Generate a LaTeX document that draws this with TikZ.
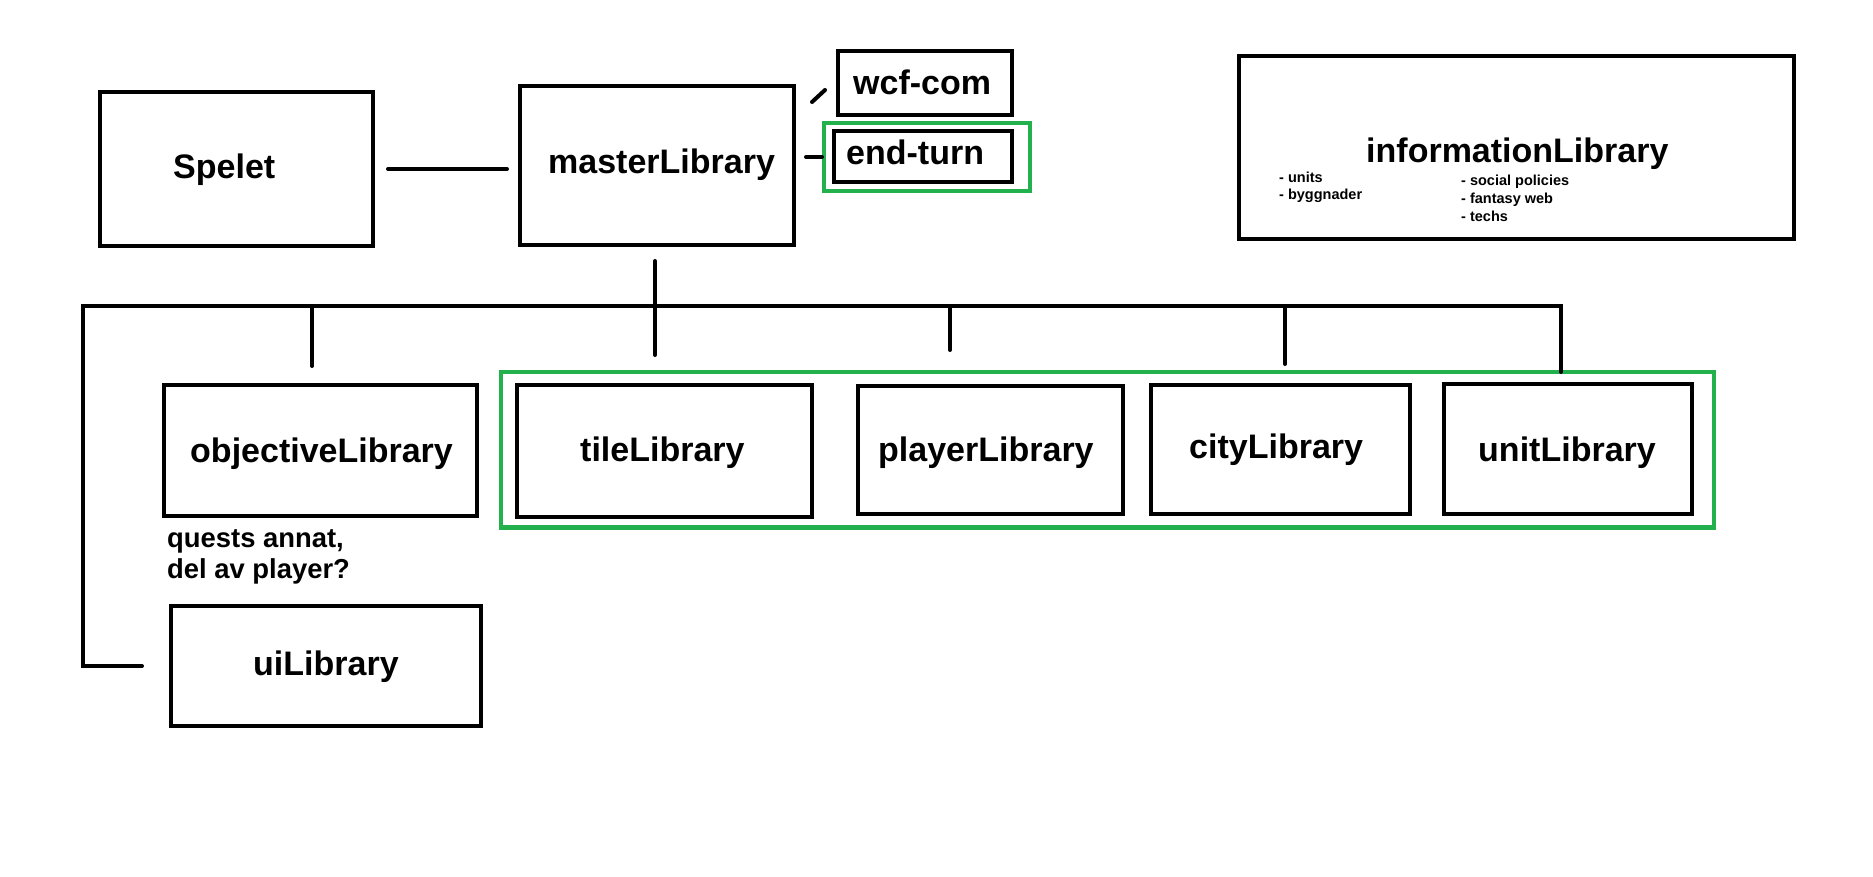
\documentclass[tikz,border=0pt]{standalone}
\usepackage{fontspec}
\setmainfont{Liberation Sans}
\usetikzlibrary{calc}
\definecolor{pgreen}{RGB}{34,177,76}
\begin{document}
\begin{tikzpicture}[x=1pt,y=-1pt,
  box/.style={draw=black, line width=4.5pt, inner sep=0pt, outer sep=0pt},
  gbox/.style={draw=pgreen, line width=4.5pt, inner sep=0pt, outer sep=0pt},
  conn/.style={draw=black, line width=4pt, line cap=round, line join=miter},
  lbl/.style={font=\fontsize{34}{40}\selectfont\bfseries, anchor=base west, inner sep=0pt},
  note/.style={font=\fontsize{27.4}{32}\selectfont\bfseries, anchor=base west, inner sep=0pt},
  tinytxt/.style={font=\fontsize{14.5}{17}\selectfont\bfseries, anchor=base west, inner sep=0pt}]
\useasboundingbox[fill=white] (0,0) rectangle (1873,876);

% boxes
\node[box, minimum width=273, minimum height=154] (spelet) at (236.5,169) {};
\node[box, minimum width=274, minimum height=159] (master) at (657,165.5) {};
\node[box, minimum width=174, minimum height=64] (wcf) at (925,83) {};
\node[gbox, minimum width=206, minimum height=68] (endgrp) at (927,157) {};
\node[box, minimum width=178, minimum height=51] (endturn) at (923,156.5) {};
\node[box, minimum width=555, minimum height=183] (info) at (1516.5,147.5) {};
\node[box, minimum width=313, minimum height=131] (objective) at (320.5,450.5) {};
\node[box, minimum width=310, minimum height=120] (ui) at (326,666) {};
\node[gbox, minimum width=1213, minimum height=155.5] (libgrp) at (1107.5,449.75) {};
\node[box, minimum width=295, minimum height=132] (tile) at (664.5,451) {};
\node[box, minimum width=265, minimum height=128] (player) at (990.5,450) {};
\node[box, minimum width=259, minimum height=129] (city) at (1280.5,449.5) {};
\node[box, minimum width=248, minimum height=130] (unit) at (1568,449) {};

% labels
\node[lbl] (tspelet) at (173,178) {Spelet};
\node[lbl] (tmaster) at (548,173) {masterLibrary};
\node[lbl] (twcf) at (853,94) {wcf-com};
\node[lbl] (tend) at (846,164) {end-turn};
\node[lbl] (tinfo) at (1366,162) {informationLibrary};
\node[tinytxt] (i1) at (1279,182) {- units};
\node[tinytxt] (i2) at (1279,199) {- byggnader};
\node[tinytxt] (i3) at (1461,185) {- social policies};
\node[tinytxt] (i4) at (1461,203) {- fantasy web};
\node[tinytxt] (i5) at (1461,221) {- techs};
\node[lbl] (tobj) at (190,462) {objectiveLibrary};
\node[note] (q1) at (167,547) {quests annat,};
\node[note] (q2) at (167,578) {del av player?};
\node[lbl] (tui) at (253,675) {uiLibrary};
\node[lbl] (ttile) at (580,461) {tileLibrary};
\node[lbl] (tplayer) at (878,461) {playerLibrary};
\node[lbl] (tcity) at (1189,458) {cityLibrary};
\node[lbl] (tunit) at (1478,461) {unitLibrary};

% connectors
\draw[conn, shorten <=15pt, shorten >=13pt] (spelet.east) -- (spelet.east -| master.west);
\coordinate (s1) at (812,102);
\coordinate (s2) at (825,90);
\draw[conn] (s1) -- (s2);
\draw[conn, shorten <=12pt, shorten >=2pt] (master.east |- endgrp.west) -- (endgrp.west);

\coordinate (hl) at (83,306);
\coordinate (hr) at (1561,306);
\coordinate (mend) at (655,355);
\draw[conn] (mend |- master.south) ++(0,16) -- (mend);
\draw[conn] ([xshift=-29pt]ui.west) -| (hl) -- (hr) -- (hr |- libgrp.north);
\coordinate (d1) at (312,366);
\coordinate (d2) at (950,350);
\coordinate (d3) at (1285,364);
\draw[conn] (d1 |- hl) -- (d1);
\draw[conn] (d2 |- hl) -- (d2);
\draw[conn] (d3 |- hl) -- (d3);
\end{tikzpicture}
\end{document}
